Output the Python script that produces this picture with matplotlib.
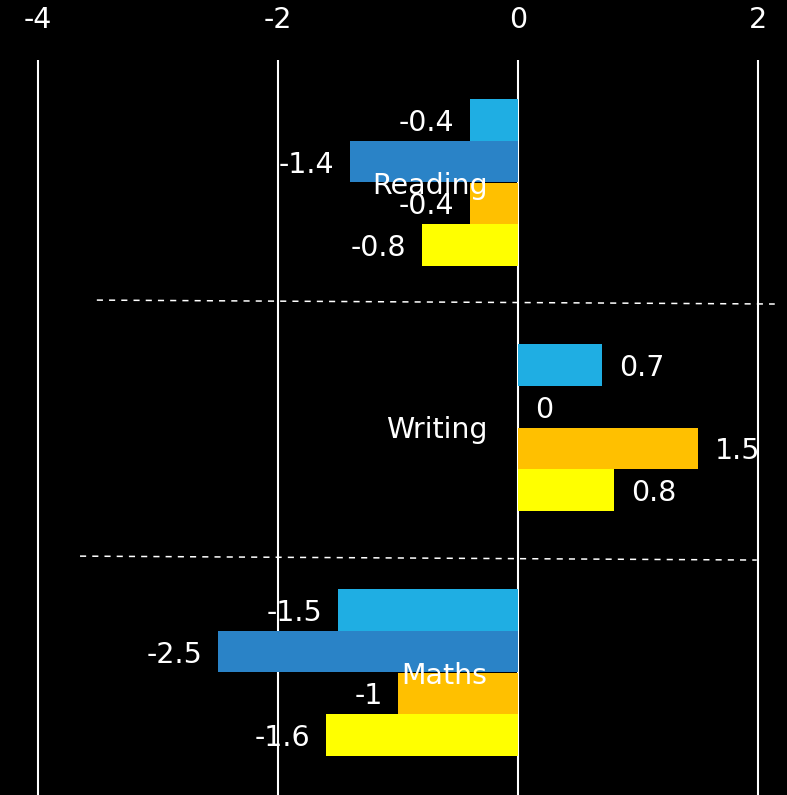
import matplotlib
matplotlib.use("Agg")
import matplotlib.pyplot as plt
import numpy as np

plt.rcParams['font.family'] = ['DejaVu Sans']

categories = ["Reading", "Writing", "Maths"]
series1 = [-0.4, 0.7, -1.5]
series2 = [-1.4, 0.0, -2.5]
series3 = [-0.4, 1.5, -1.0]
series4 = [-0.8, 0.8, -1.6]
series_values = [series1, series2, series3, series4]
series_colors = ["#1FAEE3", "#2A83C7", "#FFC000", "#FFFF00"]
x_ticks = [-4, -2, 0, 2]
x_tick_labels = ["-4", "-2", "0", "2"]
# decorative dashed separators (x0, x1, y0, y1) in data units
separators = [(-3.51, 2.14, 0.480, 0.496), (-3.65, 1.99, 1.525, 1.541)]

FS = 20.5

fig = plt.figure(figsize=(7.87, 7.95), dpi=100, facecolor="black")
ax = fig.add_axes([0, 0, 1, 735 / 795])
ax.set_facecolor("black")

n = len(series_values)
h = 0.6857 / n
y = np.arange(len(categories))

for i, (vals, col) in enumerate(zip(series_values, series_colors)):
    pos = y + (i - (n - 1) / 2) * h
    ax.barh(pos, vals, height=h, color=col, linewidth=0, zorder=2)
    for p, v in zip(pos, vals):
        if v < 0:
            ax.annotate(f"{v:g}", (v, p), xytext=(-11, 0), textcoords="offset points",
                        ha="right", va="center_baseline", color="white", fontsize=FS, zorder=4)
        else:
            ax.annotate(f"{v:g}", (v, p), xytext=(12, 0), textcoords="offset points",
                        ha="left", va="center_baseline", color="white", fontsize=FS, zorder=4)

for yc, name in zip(y, categories):
    ax.annotate(name, (0, yc), xytext=(-22, 0), textcoords="offset points",
                ha="right", va="center_baseline", color="white", fontsize=FS, zorder=5)

for x0, x1, y0, y1 in separators:
    ax.plot([x0, x1], [y0, y1], color="white", lw=1.1, dashes=(4, 4), zorder=3)

ax.set_xlim(-4.317, 2.242)
ax.set_ylim(2.5, -0.5)
ax.set_xticks(x_ticks)
ax.set_xticklabels(x_tick_labels)
ax.xaxis.tick_top()
ax.tick_params(axis="x", length=0, pad=19, colors="white", labelsize=FS)
ax.set_yticks([])
ax.grid(axis="x", color="white", lw=1.5, zorder=1)
ax.set_axisbelow(True)
for s in ax.spines.values():
    s.set_visible(False)

fig.savefig("out.png", dpi=100, facecolor="black")
